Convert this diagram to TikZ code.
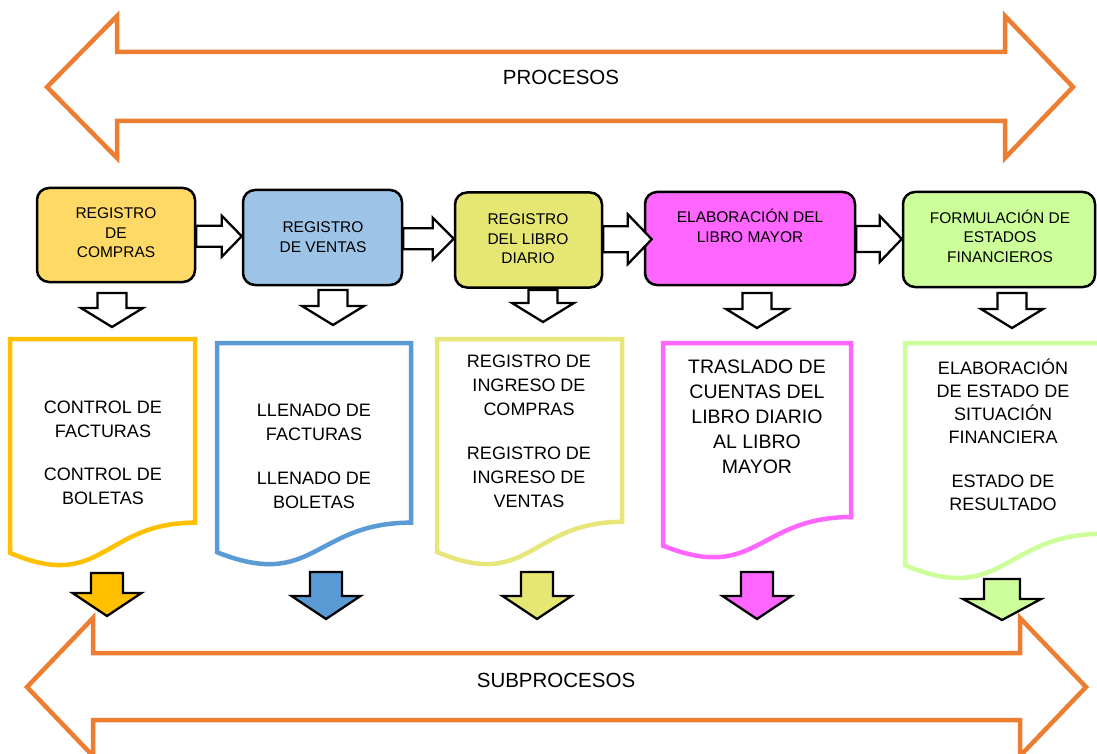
\documentclass[tikz,border=0pt]{standalone}
\usepackage{fontspec}
\setmainfont{Liberation Sans}
\usetikzlibrary{calc}
\definecolor{orng}{HTML}{ED7D31}
\definecolor{bxA}{HTML}{FFD966}
\definecolor{bxB}{HTML}{9DC3E6}
\definecolor{bxC}{HTML}{E6E673}
\definecolor{bxD}{HTML}{FF66FF}
\definecolor{bxE}{HTML}{CCFF99}
\definecolor{dcA}{HTML}{FFC000}
\definecolor{dcB}{HTML}{5B9BD5}
\definecolor{dcC}{HTML}{E6E67A}
\definecolor{dcD}{HTML}{FF66FF}
\definecolor{dcE}{HTML}{CCFF99}
\tikzset{
  bigarrow/.style={draw=orng, line width=4.5pt, line join=miter, fill=white},
  pbox/.style={draw=black, line width=2.5pt, rounded corners=12pt, inner sep=0pt},
  ptext/.style={align=center, font=\fontsize{15.5}{19.5}\selectfont, inner sep=0pt},
  dtext/.style={align=center, font=\fontsize{18}{24}\selectfont, inner sep=0pt},
  warrow/.style={draw=black, line width=2.3pt, fill=white, line join=miter},
  carrow/.style={draw=black, line width=2.3pt, line join=miter},
  docline/.style={line width=4.5pt, line join=miter, fill=white}
}
% horizontal connector between two boxes: from, to, shaft half, head half, head length, tip overlap
\newcommand\hconn[6]{%
  \path[warrow] let \p1=(#1.east), \p2=($(#2.west)+(#6,0)$), \p3=($(#1.east)!.5!(#2.west)$) in
  (\x1,\y3+#3) -- (\x2-#5,\y3+#3) -- (\x2-#5,\y3+#4) -- (\x2,\y3) --
  (\x2-#5,\y3-#4) -- (\x2-#5,\y3-#3) -- (\x1,\y3-#3) -- cycle;}
% vertical down block arrow: x, ytop, ytip, shaft half, head half, head length, style
\newcommand\dnarrow[7]{%
  \path[#7] (#1-#4,#2) -- (#1+#4,#2) -- (#1+#4,#3-#6) -- (#1+#5,#3-#6) -- (#1,#3) --
  (#1-#5,#3-#6) -- (#1-#4,#3-#6) -- cycle;}
% document shape: left, right, top, height, colour
\newcommand\docshape[5]{%
  \path[docline, draw=#5] (#1,#3+0.802*#4) -- (#1,#3) -- (#2,#3) -- (#2,#3+0.802*#4)
  .. controls ({(#1+#2)/2},#3+0.802*#4) and ({(#1+#2)/2},#3+1.1075*#4) .. (#1,#3+0.934*#4) -- cycle;}
\begin{document}
\begin{tikzpicture}[x=1pt,y=-1pt]
\useasboundingbox (0,0) rectangle (1097,754);

% top double arrow
\path[bigarrow] (47,87) -- (117,16) -- (117,52) -- (1005,52) -- (1005,16) -- (1073,87)
  -- (1005,158) -- (1005,121) -- (117,121) -- (117,158) -- cycle;
\node[font=\fontsize{20.5}{24}\selectfont] (proc) at (561,77) {PROCESOS};

% bottom double arrow
\path[bigarrow] (27,687) -- (93,618) -- (93,653) -- (1020,653) -- (1020,618) -- (1086,687)
  -- (1020,756) -- (1020,720) -- (93,720) -- (93,756) -- cycle;
\node[font=\fontsize{20.5}{24}\selectfont] (subproc) at (556,680) {SUBPROCESOS};

% process boxes
\node[pbox, fill=bxA, minimum width=158pt, minimum height=94pt] (b1) at (116,235) {};
\node[pbox, fill=bxB, minimum width=159pt, minimum height=95pt] (b2) at (322.5,237.5) {};
\node[pbox, fill=bxC, minimum width=147pt, minimum height=95pt] (b3) at (528.5,240) {};
\node[pbox, fill=bxD, minimum width=210pt, minimum height=93pt] (b4) at (750,238.5) {};
\node[pbox, fill=bxE, minimum width=192pt, minimum height=95pt] (b5) at (999,239.5) {};

\node[ptext] (t1) at (116,233) {REGISTRO\\DE\\COMPRAS};
\node[ptext] (t2) at (323,237) {REGISTRO\\DE VENTAS};
\node[ptext] (t3) at (528,239) {REGISTRO\\DEL LIBRO\\DIARIO};
\node[ptext] (t4) at (750,226) {ELABORACIÓN DEL\\LIBRO MAYOR};
\node[ptext] (t5) at (1000,236) {FORMULACIÓN DE\\ESTADOS\\FINANCIEROS};

% horizontal connectors
\hconn{b1}{b2}{10.5pt}{20.5pt}{20pt}{0}
\hconn{b2}{b3}{10.5pt}{21pt}{21pt}{0}
\hconn{b3}{b4}{13pt}{25pt}{24pt}{8}
\hconn{b4}{b5}{13pt}{23pt}{22pt}{0}

% white down arrows
\dnarrow{112}{293}{327}{14.5}{31}{19}{warrow}
\dnarrow{333}{290}{325}{14.5}{31}{19}{warrow}
\dnarrow{543}{290}{322}{14.5}{31}{19}{warrow}
\dnarrow{757}{293}{328}{14.5}{31}{19}{warrow}
\dnarrow{1012}{293}{328}{14.5}{31}{19}{warrow}

% documents
\docshape{10}{195}{339}{229}{dcA}
\docshape{217}{411}{343}{224}{dcB}
\docshape{437}{622}{339}{228}{dcC}
\docshape{663}{851}{343}{217}{dcD}
\docshape{905}{1102}{343}{238}{dcE}

\node[dtext] (d1) at (103,453) {CONTROL DE\\FACTURAS\\[19pt]CONTROL DE\\BOLETAS};
\node[dtext] (d2) at (314,456) {LLENADO DE\\FACTURAS\\[20pt]LLENADO DE\\BOLETAS};
\node[dtext] (d3) at (529,431) {REGISTRO DE\\INGRESO DE\\COMPRAS\\[20pt]REGISTRO DE\\INGRESO DE\\VENTAS};
\node[dtext, font=\fontsize{19.5}{25}\selectfont] (d4) at (757,417) {TRASLADO DE\\CUENTAS DEL\\LIBRO DIARIO\\AL LIBRO\\MAYOR};
\node[dtext, font=\fontsize{18}{23}\selectfont] (d5) at (1003,435) {ELABORACIÓN\\DE ESTADO DE\\SITUACIÓN\\FINANCIERA\\[21pt]ESTADO DE\\RESULTADO};

% coloured down arrows
\dnarrow{107}{573}{616}{16}{34.5}{23}{carrow, fill=dcA}
\dnarrow{326}{572}{619}{16}{34.5}{23}{carrow, fill=dcB}
\dnarrow{537}{572}{619}{16}{34.5}{23}{carrow, fill=bxC}
\dnarrow{757}{572}{619}{16}{34.5}{23}{carrow, fill=dcD}
\dnarrow{1002}{579}{620}{18}{39}{21}{carrow, fill=dcE}
\end{tikzpicture}
\end{document}
